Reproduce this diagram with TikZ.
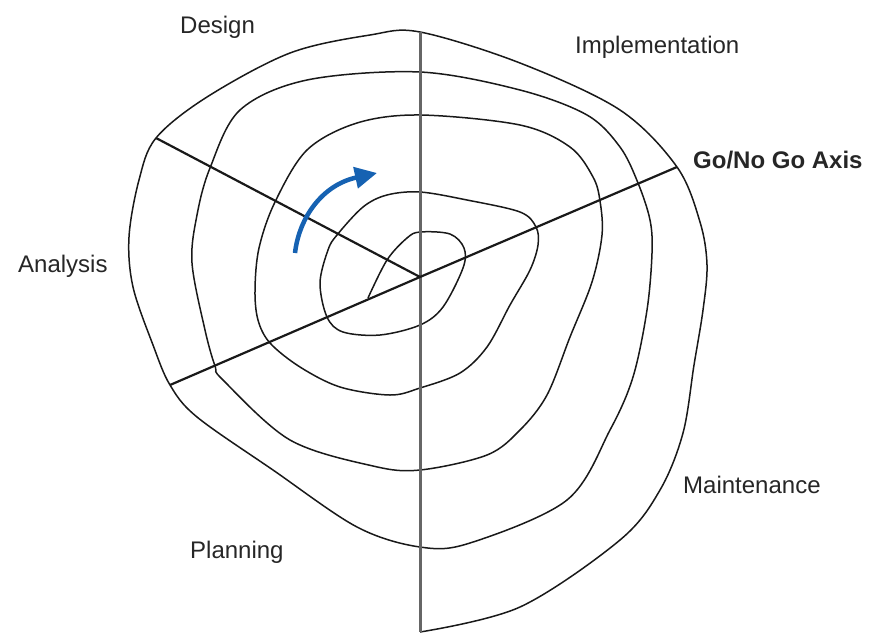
\documentclass[tikz,border=0pt]{standalone}
\usepackage{fontspec}
\setsansfont{Liberation Sans}
\usetikzlibrary{arrows.meta}
\definecolor{arrowblue}{RGB}{22,98,178}
\tikzset{
  phase/.style={font=\sffamily\fontsize{24}{28}\selectfont, anchor=base west, inner sep=0pt, text=black!85},
  axis/.style={line width=2.2pt, black!90},
  spiral/.style={line width=1.5pt, black!90, line join=round}
}
\begin{document}
\begin{tikzpicture}[x=1pt,y=-1pt]
\useasboundingbox (0,0) rectangle (882,640);
\coordinate (c) at (420,277);
\coordinate (top) at (420,32);
\coordinate (bot) at (420,632);
\coordinate (ul) at (156,138);
\coordinate (ll) at (170,385);
\coordinate (go) at (677,167);
% the spiral, inside out
\draw [spiral] plot [smooth, tension=0.55] coordinates {
  (368,298) (387,260) (407,238) (420,232) (450,234) (464,248) (463,268)
  (443,307) (420,325) (380,335) (343,332) (327,317) (320,283) (328,250)
  (337,235) (363,207) (387,195) (420,192) (467,200) (520,212) (536,227)
  (538,245) (530,270) (510,305) (487,347) (460,373) (420,388) (390,395)
  (340,387) (300,367) (270,343) (258,320) (255,290) (259,248) (275,202)
  (307,150) (357,123) (420,115) (520,125) (570,147) (593,177) (600,201)
  (602,235) (592,282) (570,337) (547,395) (520,430) (487,455) (420,470)
  (373,466) (290,440) (223,380) (215,366) (205,330) (192,263) (197,215)
  (210,168) (240,110) (307,80) (420,72) (520,90) (587,115) (620,147)
  (638,183) (650,220) (652,253) (647,310) (633,377) (610,430) (567,500)
  (470,543) (420,547) (357,527) (273,470) (197,417) (170,385) (153,345)
  (133,287) (129,237) (139,180) (156,138) (207,97) (290,53) (370,35)
  (420,32) (520,63) (620,110) (677,167) (700,222) (707,265) (703,310)
  (694,365) (683,433) (660,490) (620,540) (520,607) (420,632)};
% axes
\draw [line width=3pt, black!60] (top) -- (bot);
\draw [axis] (c) -- (ul);
\draw [axis] (c) -- (ll);
\draw [axis] (c) -- (go);
% direction
\draw [arrowblue, line width=4.5pt, -{Triangle[length=22pt,width=21pt]}]
  (295,253) .. controls (299,218) and (322,185) .. (377,173);
\node [phase] (design) at (180,33) {Design};
\node [phase] (impl) at (575,53) {Implementation};
\node [phase, font=\sffamily\bfseries\fontsize{24}{28}\selectfont] (axisname) at (693,168) {Go/No Go Axis};
\node [phase] (analysis) at (18,272) {Analysis};
\node [phase] (maint) at (683,493) {Maintenance};
\node [phase] (planning) at (190,558) {Planning};
\end{tikzpicture}
\end{document}
